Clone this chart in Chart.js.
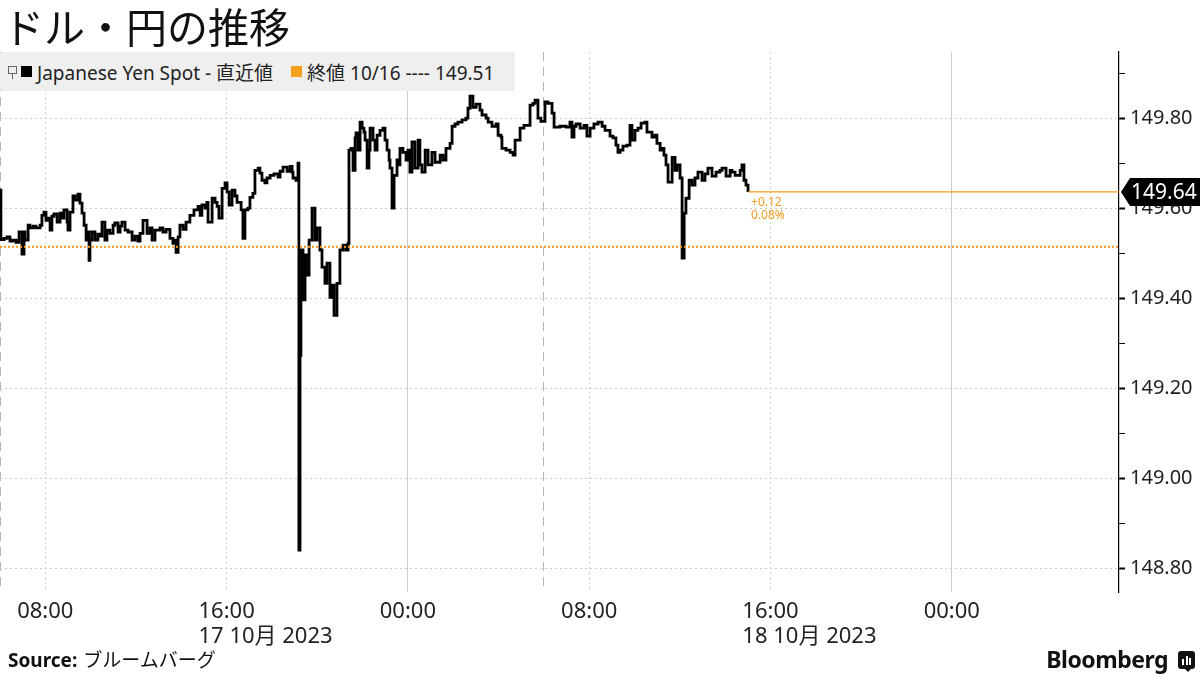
<!DOCTYPE html>
<html lang="ja">
<head>
<meta charset="UTF-8">
<title>ドル・円の推移</title>
<script src="https://cdn.jsdelivr.net/npm/chart.js"></script>
<style>
  html, body { margin: 0; padding: 0; background: #fff; }
  #wrap { position: relative; width: 1200px; height: 675px; overflow: hidden; }
  #chart-box { position: absolute; left: 0; top: 0; width: 1200px; height: 675px; }
  .title { position: absolute; left: 3px; top: 3px; font: 41px/44px "Noto Sans CJK JP"; color: #111; z-index: 2; }
  .legend { position: absolute; left: 0; top: 52px; width: 515px; height: 39px; background: #efefef; border-radius: 2px;
            font: 19px "Noto Sans", "Noto Sans CJK JP"; color: #222; display: flex; align-items: center; z-index: 2; }
  .legend .pin { width: 7px; height: 6px; border: 1px solid #666; margin: 0 4px 0 8px; position: relative; top: -2px; }
  .legend .pin::after { content: ""; position: absolute; left: 3px; top: 6px; width: 1px; height: 6px; background: #666; }
  .legend .sq { width: 11px; height: 11px; margin-right: 5px; }
  .source { position: absolute; left: 8px; top: 648px; font: 19px/24px "Noto Sans", "Noto Sans CJK JP"; color: #111; z-index: 2; }
  .source b { font-weight: 700; margin-right: 6px; }
  .brand { position: absolute; right: 32px; top: 645px; font: 700 23px/28px "Noto Sans"; color: #111; letter-spacing: -0.5px; z-index: 2; }
  .logo { position: absolute; left: 1178px; top: 651px; width: 17px; height: 18px; border-radius: 3px; background: #111; z-index: 2; }
  .logo i { position: absolute; bottom: 4px; width: 2px; background: #fff; }
  .logo::after { content: ""; position: absolute; left: 7px; bottom: -3px; border-left: 3px solid transparent; border-right: 3px solid transparent; border-top: 3px solid #111; }
</style>
</head>
<body>
<div id="wrap">
  <div class="title">ドル・円の推移</div>
  <div class="legend">
    <span class="pin"></span>
    <span class="sq" style="background:#000"></span>
    <span>Japanese Yen Spot - 直近値</span>
    <span class="sq" style="background:#f5a01a;margin-left:18px"></span>
    <span id="prev-label"></span>
  </div>
  <div id="chart-box"><canvas id="usdjpy"></canvas></div>
  <div class="source"><b>Source:</b>ブルームバーグ</div>
  <div class="brand">Bloomberg</div>
  <div class="logo"><i style="left:4px;height:6px"></i><i style="left:7.5px;height:9px"></i><i style="left:11px;height:7px"></i></div>
</div>

<script>
    // heures depuis le 17/10 00:00 (heure de Tokyo)
    const times = [
        6.00, 6.04, 6.18, 6.31, 6.44, 6.57, 6.71, 6.84, 6.97, 7.06, 7.10, 7.24, 7.32, 7.46, 7.59, 7.77,
        7.85, 7.94, 8.03, 8.12, 8.21, 8.29, 8.38, 8.52, 8.65, 8.74, 8.82, 8.96, 9.00, 9.09, 9.22, 9.31,
        9.44, 9.53, 9.62, 9.71, 9.80, 9.84, 9.93, 9.97, 10.06, 10.19, 10.32, 10.41, 10.50, 10.63, 10.72, 10.85,
        10.99, 11.07, 11.21, 11.30, 11.38, 11.52, 11.65, 11.83, 11.96, 12.09, 12.18, 12.31, 12.49, 12.62, 12.71, 12.84,
        13.06, 13.19, 13.33, 13.50, 13.63, 13.72, 13.77, 13.86, 13.94, 14.08, 14.21, 14.38, 14.56, 14.74, 14.83, 14.91,
        15.05, 15.13, 15.18, 15.36, 15.49, 15.58, 15.66, 15.80, 15.93, 16.02, 16.11, 16.24, 16.37, 16.46, 16.64, 16.72,
        16.81, 16.94, 17.03, 17.16, 17.25, 17.39, 17.47, 17.56, 17.69, 17.78, 17.92, 18.09, 18.27, 18.36, 18.49, 18.67,
        18.80, 18.89, 18.93, 19.06, 19.15, 19.19, 19.24, 19.28, 19.37, 19.46, 19.55, 19.64, 19.77, 19.90, 19.99, 20.12,
        20.21, 20.34, 20.43, 20.56, 20.65, 20.74, 20.87, 21.00, 21.14, 21.27, 21.36, 21.40, 21.49, 21.58, 21.67, 21.71,
        21.80, 21.89, 21.98, 22.06, 22.11, 22.20, 22.28, 22.33, 22.46, 22.55, 22.64, 22.77, 22.90, 22.99, 23.08, 23.17,
        23.21, 23.30, 23.39, 23.52, 23.61, 23.65, 23.78, 23.92, 24.00, 24.09, 24.18, 24.31, 24.45, 24.53, 24.62, 24.76,
        24.89, 25.06, 25.20, 25.42, 25.55, 25.68, 25.86, 25.95, 26.08, 26.21, 26.39, 26.56, 26.65, 26.74, 26.87, 27.01,
        27.18, 27.27, 27.45, 27.54, 27.71, 27.89, 27.98, 28.11, 28.15, 28.33, 28.51, 28.64, 28.73, 28.95, 29.12, 29.39,
        29.52, 29.61, 29.74, 29.87, 30.05, 30.18, 30.36, 30.45, 30.71, 30.98, 31.15, 31.24, 31.33, 31.42, 31.60, 31.77,
        31.90, 32.04, 32.21, 32.39, 32.57, 32.70, 32.92, 33.05, 33.18, 33.27, 33.36, 33.49, 33.67, 33.80, 33.89, 34.02,
        34.15, 34.29, 34.46, 34.55, 34.77, 34.90, 34.99, 35.13, 35.21, 35.30, 35.39, 35.48, 35.66, 35.79, 35.88, 36.01,
        36.10, 36.19, 36.27, 36.41, 36.54, 36.67, 36.80, 36.98, 37.11, 37.24, 37.42, 37.60, 37.77, 37.86, 38.04, 38.22,
        38.30, 38.44, 38.66, 38.74, 38.83, 38.92, 39.01
    ];

    const prices = [
        149.640, 149.530, 149.533, 149.536, 149.527, 149.529, 149.524, 149.547, 149.498, 149.547, 149.529, 149.562, 149.556, 149.560, 149.556, 149.562,
        149.584, 149.591, 149.573, 149.578, 149.551, 149.582, 149.587, 149.569, 149.589, 149.578, 149.596, 149.569, 149.551, 149.591, 149.627, 149.618,
        149.631, 149.611, 149.589, 149.562, 149.529, 149.547, 149.484, 149.529, 149.547, 149.529, 149.542, 149.538, 149.569, 149.529, 149.551, 149.544,
        149.562, 149.567, 149.547, 149.560, 149.569, 149.551, 149.547, 149.529, 149.538, 149.527, 149.544, 149.573, 149.544, 149.556, 149.529, 149.551,
        149.556, 149.547, 149.553, 149.533, 149.522, 149.529, 149.502, 149.536, 149.562, 149.553, 149.569, 149.584, 149.596, 149.604, 149.584, 149.607,
        149.600, 149.613, 149.569, 149.622, 149.613, 149.604, 149.578, 149.644, 149.656, 149.636, 149.607, 149.640, 149.627, 149.613, 149.596, 149.533,
        149.596, 149.600, 149.624, 149.633, 149.684, 149.689, 149.678, 149.662, 149.656, 149.667, 149.673, 149.676, 149.669, 149.682, 149.691, 149.682,
        149.693, 149.680, 149.667, 149.662, 149.700, 148.840, 149.273, 149.507, 149.396, 149.496, 149.451, 149.529, 149.600, 149.529, 149.556, 149.507,
        149.469, 149.433, 149.478, 149.402, 149.429, 149.362, 149.433, 149.507, 149.518, 149.507, 149.522, 149.729, 149.733, 149.684, 149.756, 149.767,
        149.729, 149.791, 149.778, 149.769, 149.751, 149.689, 149.729, 149.778, 149.751, 149.729, 149.762, 149.773, 149.778, 149.751, 149.729, 149.707,
        149.689, 149.600, 149.673, 149.707, 149.696, 149.733, 149.724, 149.707, 149.729, 149.680, 149.747, 149.689, 149.751, 149.696, 149.680, 149.729,
        149.696, 149.724, 149.702, 149.718, 149.707, 149.733, 149.744, 149.782, 149.787, 149.791, 149.796, 149.800, 149.822, 149.849, 149.824, 149.831,
        149.818, 149.807, 149.800, 149.791, 149.782, 149.787, 149.762, 149.758, 149.733, 149.729, 149.724, 149.718, 149.751, 149.778, 149.784, 149.829,
        149.833, 149.840, 149.800, 149.793, 149.836, 149.833, 149.811, 149.780, 149.782, 149.780, 149.791, 149.758, 149.782, 149.787, 149.778, 149.784,
        149.760, 149.778, 149.787, 149.791, 149.782, 149.773, 149.760, 149.756, 149.740, 149.724, 149.729, 149.738, 149.740, 149.784, 149.751, 149.773,
        149.778, 149.789, 149.791, 149.769, 149.758, 149.762, 149.744, 149.729, 149.733, 149.718, 149.696, 149.658, 149.713, 149.684, 149.696, 149.667,
        149.489, 149.589, 149.622, 149.662, 149.651, 149.667, 149.680, 149.662, 149.676, 149.689, 149.671, 149.680, 149.684, 149.689, 149.671, 149.684,
        149.680, 149.673, 149.684, 149.696, 149.662, 149.651, 149.636
    ];

    const prevClose = 149.514;      // 終値 10/16
    const prevCloseLabel = "10/16";

    // axe X
    const xMin = 6, xMax = 55.38;
    const gridHours = [6, 8, 16, 24, 30, 32, 40, 48];
    const labelHours = [8, 16, 24, 32, 40, 48];
    const timeLabels = ["08:00", "16:00", "00:00", "08:00", "16:00", "00:00"];
    const dateLabels = ["", "17 10月 2023", "", "", "18 10月 2023", ""];

    // axe Y
    const yMin = 148.747, yMax = 149.947;
    const yTicks = [148.8, 148.9, 149.0, 149.1, 149.2, 149.3, 149.4, 149.5, 149.6, 149.7, 149.8, 149.9];

    const orange = "#f39c1f";
    const lastT = times[times.length - 1];
    const lastP = prices[prices.length - 1];

    document.getElementById("prev-label").textContent = `終値 ${prevCloseLabel} ---- ${prevClose.toFixed(2)}`;

    const isMajor = v => Math.round(v * 10) % 2 === 0;

    // étiquettes X, valeur courante, variation
    const overlay = {
        id: "overlay",
        afterDraw(chart) {
            const { ctx, chartArea, scales: { x, y } } = chart;
            ctx.save();

            ctx.fillStyle = "#222";
            ctx.textAlign = "left";
            ctx.textBaseline = "alphabetic";
            ctx.font = '22px "Noto Sans", "Noto Sans CJK JP"';
            labelHours.forEach((h, i) => {
                const px = x.getPixelForValue(h);
                const w = ctx.measureText(timeLabels[i]).width;
                ctx.fillText(timeLabels[i], px - w / 2, chartArea.bottom + 26);
                if (dateLabels[i]) ctx.fillText(dateLabels[i], px - w / 2, chartArea.bottom + 51);
            });

            const ly = y.getPixelForValue(lastP);
            const left = chartArea.right + 2;
            ctx.fillStyle = "#000";
            ctx.beginPath();
            ctx.moveTo(left, ly);
            ctx.lineTo(left + 9, ly - 14);
            ctx.lineTo(chart.width, ly - 14);
            ctx.lineTo(chart.width, ly + 14);
            ctx.lineTo(left + 9, ly + 14);
            ctx.closePath();
            ctx.fill();
            ctx.fillStyle = "#fff";
            ctx.font = '21px "Noto Sans"';
            ctx.textBaseline = "middle";
            ctx.fillText(lastP.toFixed(2), left + 10, ly + 1);

            const lx = x.getPixelForValue(lastT);
            const chg = lastP - prevClose;
            ctx.fillStyle = orange;
            ctx.font = '12px "Noto Sans"';
            ctx.fillText((chg >= 0 ? "+" : "") + chg.toFixed(2), lx + 3, ly + 11);
            ctx.fillText((chg / prevClose * 100).toFixed(2) + "%", lx + 3, ly + 24);
            ctx.restore();
        }
    };

    const gridKind = v => {
        const m = ((v % 24) + 24) % 24;
        if (m === 6) return "session";
        if (m === 0) return "day";
        return "hour";
    };

    new Chart(document.getElementById("usdjpy"), {
        type: "line",
        data: {
            datasets: [
                {
                    label: "終値",
                    data: [{ x: xMin, y: prevClose }, { x: xMax, y: prevClose }],
                    borderColor: orange,
                    borderWidth: 2,
                    borderDash: [2, 2],
                    pointRadius: 0,
                    order: 0
                },
                {
                    label: "直近値",
                    data: [{ x: lastT, y: lastP }, { x: xMax, y: lastP }],
                    borderColor: orange,
                    borderWidth: 1.2,
                    pointRadius: 0,
                    order: 0
                },
                {
                    label: "Japanese Yen Spot",
                    data: times.map((t, i) => ({ x: t, y: prices[i] })),
                    borderColor: "#000",
                    borderWidth: 2.8,
                    pointRadius: 0,
                    stepped: true,
                    order: 1
                }
            ]
        },
        options: {
            responsive: true,
            maintainAspectRatio: false,
            animation: false,
            layout: { padding: { top: 52, left: 0, right: 0, bottom: 0 } },
            plugins: { legend: { display: false }, tooltip: { enabled: false } },
            scales: {
                x: {
                    type: "linear",
                    min: xMin,
                    max: xMax,
                    afterBuildTicks: s => { s.ticks = gridHours.map(v => ({ value: v })); },
                    afterFit: s => { s.height = 83; },
                    ticks: { display: false },
                    grid: {
                        drawTicks: false,
                        lineWidth: 1,
                        color: c => {
                            const k = gridKind(c.tick ? c.tick.value : 0);
                            return k === "session" ? "#b5b5b5" : k === "day" ? "#cccccc" : "#d2d2d2";
                        }
                    },
                    border: {
                        display: false,
                        dash: c => {
                            const k = gridKind(c.tick ? c.tick.value : 0);
                            return k === "session" ? [9, 6] : k === "day" ? [] : [2, 3];
                        }
                    }
                },
                y: {
                    position: "right",
                    min: yMin,
                    max: yMax,
                    afterBuildTicks: s => { s.ticks = yTicks.map(v => ({ value: v })); },
                    afterFit: s => { s.width = 81; },
                    ticks: {
                        padding: 5,
                        color: "#222",
                        font: { family: '"Noto Sans"', size: 20 },
                        callback: v => isMajor(v) ? v.toFixed(2) : ""
                    },
                    grid: {
                        tickLength: 6,
                        tickColor: "#000",
                        tickWidth: c => (c.tick && isMajor(c.tick.value)) ? 2 : 1,
                        tickBorderDash: [],
                        color: c => (c.tick && isMajor(c.tick.value)) ? "#cccccc" : "rgba(0,0,0,0)"
                    },
                    border: { display: true, color: "#000", width: 1.2, dash: [2, 3] }
                }
            }
        },
        plugins: [overlay]
    });
</script>
</body>
</html>
